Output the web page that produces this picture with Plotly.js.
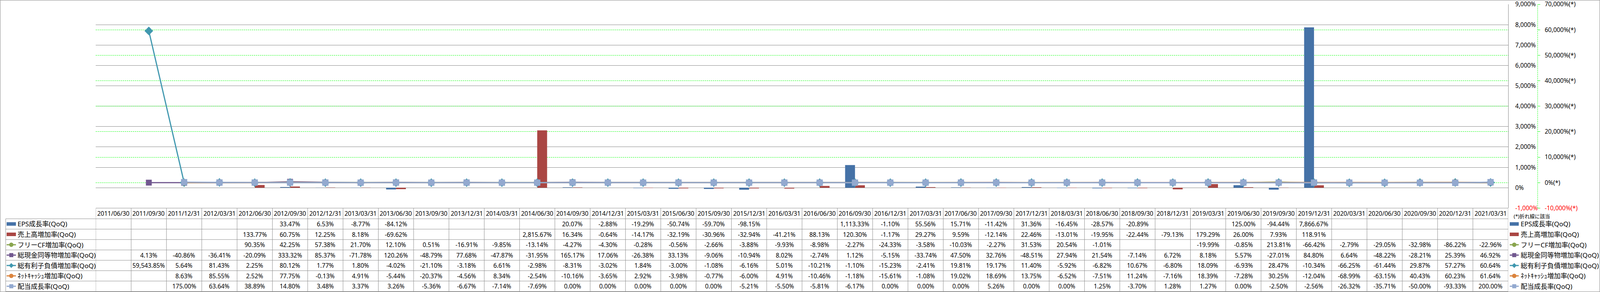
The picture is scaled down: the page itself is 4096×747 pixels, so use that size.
<!DOCTYPE html>
<html>
<head>
<meta charset="utf-8">
<script src="https://cdn.plot.ly/plotly-3.0.1.min.js"></script>
<style>
html,body{margin:0;padding:0;background:#fff;overflow:hidden}
#chart{width:4096px;height:747px}
</style>
</head>
<body>
<div id="chart"></div>
<script>
// ---------------- data ----------------
const dates = ["2011/06/30","2011/09/30","2011/12/31","2012/03/31","2012/06/30","2012/09/30","2012/12/31","2013/03/31","2013/06/30","2013/09/30","2013/12/31","2014/03/31","2014/06/30","2014/09/30","2014/12/31","2015/03/31","2015/06/30","2015/09/30","2015/12/31","2016/03/31","2016/06/30","2016/09/30","2016/12/31","2017/03/31","2017/06/30","2017/09/30","2017/12/31","2018/03/31","2018/06/30","2018/09/30","2018/12/31","2019/03/31","2019/06/30","2019/09/30","2019/12/31","2020/03/31","2020/06/30","2020/09/30","2020/12/31","2021/03/31"];

const epsGrowth = [null,null,null,null,null,33.47,6.53,-8.77,-84.12,null,null,null,null,20.07,-2.88,-19.29,-50.74,-59.70,-98.15,null,null,1113.33,-1.10,55.56,15.71,-11.42,31.36,-16.45,-28.57,-20.89,null,null,125.00,-94.44,7866.67,null,null,null,null,null];
const salesGrowth = [null,null,null,null,133.77,60.75,12.25,8.18,-69.62,null,null,null,2815.67,16.34,-0.64,-14.17,-32.19,-30.96,-32.94,-41.21,88.13,120.30,-1.17,29.27,9.59,-12.14,22.46,-13.01,-19.95,-22.44,-79.13,179.29,26.00,7.93,118.91,null,null,null,null,null];
const freeCfGrowth = [null,null,null,null,90.35,42.25,57.38,21.70,12.10,0.51,-16.91,-9.85,-13.14,-4.27,-4.30,-0.28,-0.56,-2.66,-3.88,-9.93,-8.98,-2.27,-24.33,-3.58,-10.03,-2.27,31.53,20.54,-1.01,null,null,-19.99,-0.85,213.81,-66.42,-2.79,-29.05,-32.98,-86.22,-22.96];
const cashGrowth = [null,4.13,-40.86,-36.41,-20.09,333.32,85.37,-71.78,120.26,-48.79,77.68,-47.87,-31.95,165.17,17.06,-26.38,33.13,-9.06,-10.94,8.02,-2.74,1.12,-5.15,-33.74,47.50,32.76,-48.51,27.94,21.54,-7.14,6.72,8.18,5.57,-27.01,84.80,6.64,-48.22,-28.21,25.39,46.92];
const debtGrowth = [null,59543.85,5.64,81.43,2.25,80.12,1.77,1.80,-4.02,-21.10,-3.18,6.61,-2.98,-8.31,-3.02,1.84,-3.00,-1.08,-6.16,5.01,-10.21,-1.10,-15.23,-2.41,19.81,19.17,11.40,-5.92,-6.82,10.67,-6.80,18.09,-6.93,28.47,-10.34,-66.25,-61.44,29.87,57.27,60.64];
const netCashGrowth = [null,null,8.63,85.55,2.52,77.75,-0.13,4.91,-5.44,-20.37,-4.56,8.34,-2.54,-10.16,-3.65,2.92,-3.98,-0.77,-6.00,4.91,-10.46,-1.18,-15.61,-1.08,19.02,18.69,13.75,-6.52,-7.51,11.24,-7.16,18.39,-7.28,30.25,-12.04,-68.99,-63.15,40.43,60.23,61.64];
const dividendGrowth = [null,null,175.00,63.64,38.89,14.80,3.48,3.37,3.26,-5.36,-6.67,-7.14,-7.69,0.00,0.00,0.00,0.00,0.00,-5.21,-5.50,-5.81,-6.17,0.00,0.00,0.00,5.26,0.00,0.00,1.25,-3.70,1.28,1.27,0.00,-2.50,-2.56,-26.32,-35.71,-50.00,-93.33,200.00];

const seriesNames = ["EPS成長率(QoQ)","売上高増加率(QoQ)","フリーCF増加率(QoQ)","総現金同等物増加率(QoQ)","総有利子負債増加率(QoQ)","ﾈｯﾄｷｬｯｼｭ増加率(QoQ)","配当成長率(QoQ)"];
const legendNote = "(*)折れ線に該当";
const primaryTicks = [-1000,0,1000,2000,3000,4000,5000,6000,7000,8000,9000];
const secondaryTicks = [-10000,0,10000,20000,30000,40000,50000,60000,70000];

// ---------------- layout geometry (px in the 4096x747 window) ----------------
const W = 4096, H = 747;
const plotL = 245.4, plotR = 3861.0, plotT = 11.0, plotB = 532.4;
const y2AxisX = 3936.4;
const rowEdges = [532.4, 559.7, 586.2, 612.8, 639.4, 665.9, 692.5, 719.0, 745.6];
const tableLeft = 14.6;
const px = x => x / W;
const py = y => 1 - y / H;

const FONT = "'Noto Sans', 'Noto Sans CJK JP', sans-serif";
const GRID = '#868686';
const TABLE_LINE = '#8c8c8c';
const GREEN = '#00FF00';

const styles = [
  {kind:'bar', color:'#4572A7'},
  {kind:'bar', color:'#AA4643'},
  {kind:'line', color:'#89A54E', symbol:'circle', size:15},
  {kind:'line', color:'#71588F', symbol:'square', size:15},
  {kind:'line', color:'#4198AF', symbol:'diamond', size:17},
  {kind:'line', color:'#DB843D', symbol:'circle', size:15},
  {kind:'line', color:'#93A9CF', symbol:'square', size:16}
];
const seriesValues = [epsGrowth, salesGrowth, freeCfGrowth, cashGrowth, debtGrowth, netCashGrowth, dividendGrowth];

// ---------------- traces ----------------
const traces = [];
seriesValues.forEach((vals, k) => {
  const st = styles[k];
  if (st.kind === 'bar') {
    traces.push({type:'bar', x:dates, y:vals, name:seriesNames[k], xaxis:'x', yaxis:'y',
      marker:{color:st.color, line:{width:0}}, showlegend:false, hoverinfo:'skip'});
  } else {
    traces.push({type:'scatter', mode:'lines+markers', x:dates, y:vals, name:seriesNames[k], xaxis:'x', yaxis:'y2',
      connectgaps:false, line:{color:st.color, width:3},
      marker:{symbol:st.symbol, size:st.size, color:st.color, line:{width:0}},
      showlegend:false, hoverinfo:'skip', cliponaxis:false});
  }
});

// ---------------- helpers ----------------
function fmt(v) {
  return v.toLocaleString('en-US', {minimumFractionDigits:2, maximumFractionDigits:2}) + '%';
}
function fmtTick(v, suffix) {
  const t = v.toLocaleString('en-US') + '%' + suffix;
  return v < 0 ? '<span style="color:#FF0000">' + t + '</span>' : t;
}

const shapes = [];
const annotations = [];

// outer border
shapes.push({type:'rect', xref:'paper', yref:'paper', x0:px(0.5), x1:px(W-0.5), y0:py(H-0.5), y1:py(0.5),
  line:{color:GRID, width:1}, fillcolor:'rgba(0,0,0,0)', layer:'above'});

// secondary axis dashed line
shapes.push({type:'line', xref:'paper', yref:'paper', x0:px(y2AxisX), x1:px(y2AxisX), y0:py(plotB), y1:py(plotT),
  line:{color:GREEN, width:1, dash:'3px,2px'}});

// table horizontal lines
shapes.push({type:'line', xref:'paper', yref:'paper', x0:px(plotL), x1:px(plotR), y0:py(rowEdges[0]), y1:py(rowEdges[0]),
  line:{color:TABLE_LINE, width:1}});
for (let r = 1; r < rowEdges.length; r++) {
  shapes.push({type:'line', xref:'paper', yref:'paper', x0:px(tableLeft), x1:px(plotR), y0:py(rowEdges[r]), y1:py(rowEdges[r]),
    line:{color:TABLE_LINE, width:1}});
}
// table vertical lines (category boundaries on the x axis)
for (let i = 0; i <= dates.length; i++) {
  shapes.push({type:'line', xref:'x', yref:'paper', x0:i-0.5, x1:i-0.5, y0:py(rowEdges[0]), y1:py(rowEdges[rowEdges.length-1]),
    line:{color:TABLE_LINE, width:1}});
}
shapes.push({type:'line', xref:'paper', yref:'paper', x0:px(tableLeft), x1:px(tableLeft), y0:py(rowEdges[1]), y1:py(rowEdges[rowEdges.length-1]),
  line:{color:TABLE_LINE, width:1}});

// header dates
const headerY = (rowEdges[0] + rowEdges[1]) / 2;
dates.forEach(d => {
  annotations.push({xref:'x', yref:'paper', x:d, y:py(headerY), text:d, showarrow:false,
    xanchor:'center', yanchor:'middle', font:{family:FONT, size:15.5, color:'#000'}});
});

// legend symbol drawer
function addSymbol(k, x0, x1, yc) {
  const st = styles[k];
  if (st.kind === 'bar') {
    shapes.push({type:'rect', xref:'paper', yref:'paper', x0:px(x0), x1:px(x1), y0:py(yc+4.5), y1:py(yc-4.5),
      fillcolor:st.color, line:{width:0}});
    return;
  }
  shapes.push({type:'line', xref:'paper', yref:'paper', x0:px(x0), x1:px(x1), y0:py(yc), y1:py(yc),
    line:{color:st.color, width:3}});
  const cx = (x0 + x1) / 2;
  if (st.symbol === 'circle') {
    const r = 5.6;
    shapes.push({type:'circle', xref:'paper', yref:'paper', x0:px(cx-r), x1:px(cx+r), y0:py(yc+r), y1:py(yc-r),
      fillcolor:st.color, line:{width:0}});
  } else if (st.symbol === 'square') {
    const r = 5.2;
    shapes.push({type:'rect', xref:'paper', yref:'paper', x0:px(cx-r), x1:px(cx+r), y0:py(yc+r), y1:py(yc-r),
      fillcolor:st.color, line:{width:0}});
  } else {
    const r = 6.2;
    const path = 'M' + px(cx-r) + ',' + py(yc) + 'L' + px(cx) + ',' + py(yc-r) + 'L' + px(cx+r) + ',' + py(yc) + 'L' + px(cx) + ',' + py(yc+r) + 'Z';
    shapes.push({type:'path', xref:'paper', yref:'paper', path:path, fillcolor:st.color, line:{width:0}});
  }
}

// table rows
seriesValues.forEach((vals, k) => {
  const yc = (rowEdges[k+1] + rowEdges[k+2]) / 2;
  addSymbol(k, 17.0, 40.8, yc);
  annotations.push({xref:'paper', yref:'paper', x:px(42.5), y:py(yc), text:seriesNames[k], showarrow:false,
    xanchor:'left', yanchor:'middle', font:{family:FONT, size:17, color:'#000'}});
  vals.forEach((v, i) => {
    if (v === null) return;
    annotations.push({xref:'x', yref:'paper', x:dates[i], y:py(yc), text:fmt(v), showarrow:false,
      xanchor:'center', yanchor:'middle', font:{family:FONT, size:15.5, color:'#000'}});
  });
  // right-hand legend
  addSymbol(k, 3865.0, 3888.0, yc);
  annotations.push({xref:'paper', yref:'paper', x:px(3891), y:py(yc), text:seriesNames[k], showarrow:false,
    xanchor:'left', yanchor:'middle', font:{family:FONT, size:17, color:'#000'}});
});
annotations.push({xref:'paper', yref:'paper', x:px(3873), y:py(552.8), text:legendNote, showarrow:false,
  xanchor:'left', yanchor:'middle', font:{family:FONT, size:13, color:'#000'}});

// ---------------- layout ----------------
const layout = {
  width: W, height: H,
  margin: {l:0, r:0, t:0, b:0, pad:0},
  paper_bgcolor: '#fff', plot_bgcolor: 'rgba(0,0,0,0)',
  showlegend: false,
  barmode: 'group', bargap: 0.44, bargroupgap: 0,
  font: {family: FONT, size: 15.5, color: '#000'},
  xaxis: {type:'category', domain:[px(plotL), px(plotR)], range:[-0.5, dates.length-0.5], anchor:'y',
    showticklabels:false, ticks:'', showgrid:false, zeroline:false, showline:false, fixedrange:true},
  yaxis: {domain:[py(plotB), py(plotT)], range:[-1000, 9000], side:'right', anchor:'x',
    tickmode:'array', tickvals:primaryTicks, ticktext:primaryTicks.map(v => fmtTick(v, '')),
    showgrid:true, gridcolor:GRID, gridwidth:1, zeroline:false,
    showline:true, linecolor:GRID, linewidth:1, ticks:'', ticklabelstandoff:14, ticklabeloverflow:'allow',
    tickfont:{family:FONT, size:15.5, color:'#000'}, fixedrange:true},
  yaxis2: {overlaying:'y', side:'right', anchor:'free', position:px(y2AxisX), range:[-10000, 70000],
    tickmode:'array', tickvals:secondaryTicks, ticktext:secondaryTicks.map(v => fmtTick(v, '(*)')),
    showgrid:true, gridcolor:GREEN, gridwidth:1, griddash:'3px,2px', zeroline:false,
    showline:false, ticks:'outside', ticklen:6, tickwidth:1, tickcolor:GREEN, ticklabelstandoff:8, ticklabeloverflow:'allow',
    tickfont:{family:FONT, size:15.5, color:'#000'}, fixedrange:true},
  shapes: shapes,
  annotations: annotations
};

Plotly.newPlot('chart', traces, layout, {staticPlot:true, displayModeBar:false});
</script>
</body>
</html>
